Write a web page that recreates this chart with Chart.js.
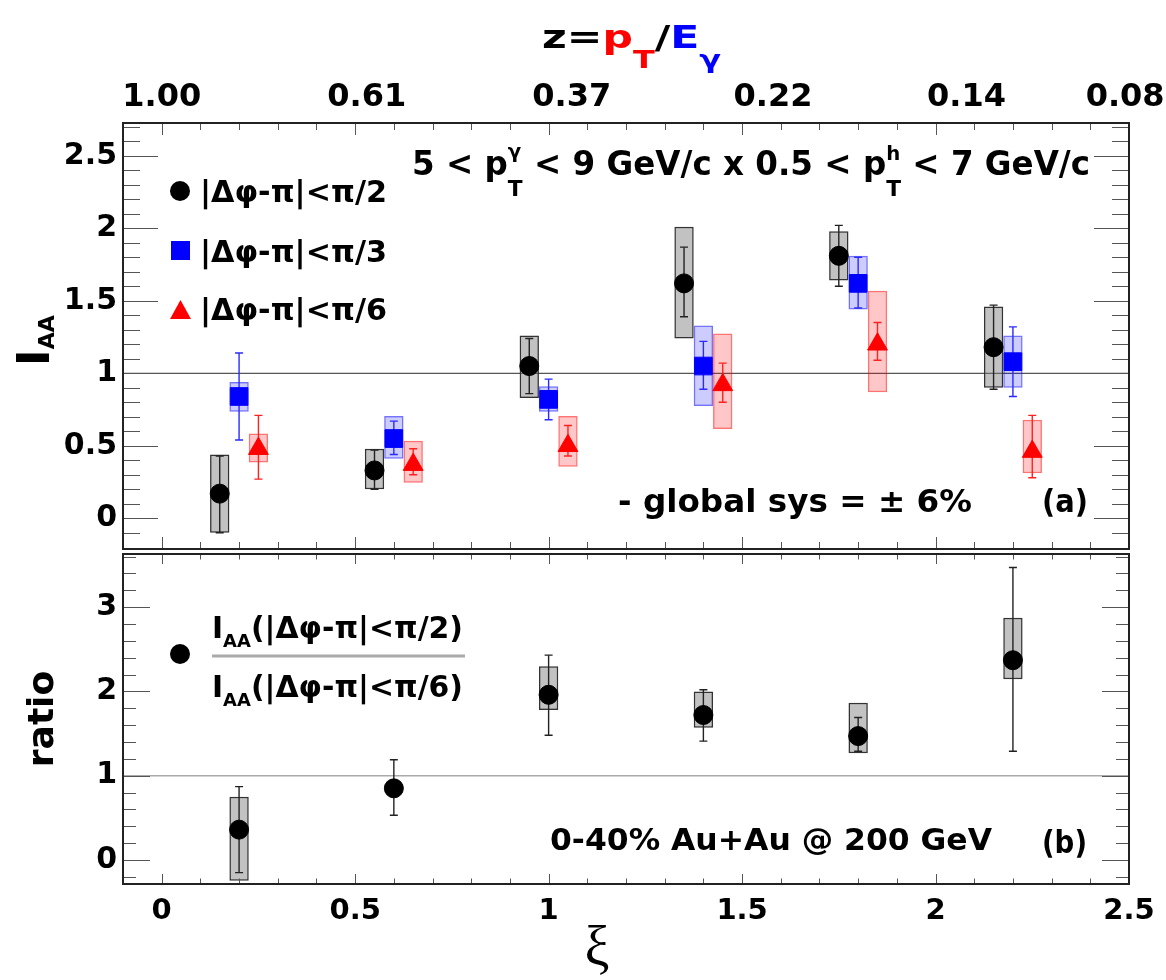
<!DOCTYPE html>
<html>
<head>
<meta charset="utf-8">
<title>I_AA vs xi</title>
<script src="https://cdn.jsdelivr.net/npm/chart.js@4.4.1/dist/chart.umd.min.js"></script>
<style>
  body { margin: 0; background: #fff; }
  canvas { display: block; }
</style>
</head>
<body>
<canvas id="iaaChart" width="1166" height="980"></canvas>
<script>
// xi = ln(1/z); the three |dphi-pi| windows are drawn side by side around each bin
const xiHalfPi  = [0.15, 0.55, 0.95, 1.35, 1.75, 2.15];
const xiThirdPi = [0.20, 0.60, 1.00, 1.40, 1.80, 2.20];
const xiSixthPi = [0.25, 0.65, 1.05, 1.45, 1.85, 2.25];
const xiRatio   = [0.20, 0.60, 1.00, 1.40, 1.80, 2.20];

// I_AA for |dphi-pi| < pi/2 (black circles)
const iaaHalfPi     = [0.17, 0.33, 1.05, 1.62, 1.81, 1.18];
const iaaHalfPiStat = [[-0.10, 0.43], [0.20, 0.47], [0.86, 1.24], [1.39, 1.87], [1.60, 2.02], [0.89, 1.47]];
const iaaHalfPiSys  = [[-0.10, 0.44], [0.20, 0.48], [0.83, 1.26], [1.24, 2.01], [1.64, 1.98], [0.90, 1.46]];

// I_AA for |dphi-pi| < pi/3 (blue squares)
const iaaThirdPi     = [0.84, 0.55, 0.82, 1.05, 1.62, 1.08];
const iaaThirdPiStat = [[0.54, 1.14], [0.44, 0.67], [0.68, 0.96], [0.89, 1.22], [1.45, 1.80], [0.84, 1.32]];
const iaaThirdPiSys  = [[0.735, 0.94], [0.41, 0.705], [0.735, 0.91], [0.775, 1.33], [1.44, 1.81], [0.90, 1.26]];

// I_AA for |dphi-pi| < pi/6 (red triangles)
const iaaSixthPi     = [0.48, 0.37, 0.50, 0.92, 1.20, 0.46];
const iaaSixthPiStat = [[0.27, 0.71], [0.30, 0.48], [0.43, 0.64], [0.80, 1.07], [1.09, 1.35], [0.28, 0.71]];
const iaaSixthPiSys  = [[0.385, 0.585], [0.245, 0.535], [0.355, 0.705], [0.615, 1.275], [0.87, 1.57], [0.31, 0.68]];

// ratio pi/2 over pi/6
const ratioVals = [0.36, 0.85, 1.96, 1.72, 1.47, 2.37];
const ratioStat = [[-0.15, 0.87], [0.53, 1.19], [1.48, 2.43], [1.41, 2.02], [1.29, 1.69], [1.29, 3.47]];
const ratioSys  = [[-0.245, 0.75], null, [1.78, 2.30], [1.57, 2.00], [1.265, 1.865], [2.145, 2.875]];

// top axis: z = pT/E_gamma labels and where they sit on the xi axis
const zTickLabels = ['1.00', '0.61', '0.37', '0.22', '0.14', '0.08'];
const zTickXi     = [0.0, 0.53, 1.06, 1.58, 2.08, 2.49];

const xiMin = -0.1, xiMax = 2.5;
const iaaMin = -0.229, iaaMax = 2.726;
const ratioMin = -0.285, ratioMax = 3.66;

const bold = (n) => `bold ${n}px "DejaVu Sans"`;
const plainNum = (v) => String(Math.round(v * 10) / 10);

function series(list, o) {
  const sysPts = o.xs.map((x, i) => ({ x, y: o.sys[i] })).filter(p => p.y);
  list.push({
    type: 'bar', yAxisID: o.axis, data: sysPts, order: 4,
    backgroundColor: o.fill, borderColor: o.edge, borderWidth: 1.5, borderSkipped: false,
    grouped: false, categoryPercentage: 1, barPercentage: 1, inflateAmount: 0
  });
  list.push({
    type: 'bar', yAxisID: o.axis, order: 3,
    data: o.xs.map((x, i) => ({ x, y: o.stat[i] })),
    backgroundColor: o.err, borderWidth: 0, grouped: false,
    categoryPercentage: 1, barPercentage: 1, maxBarThickness: 1.4, inflateAmount: 0
  });
  list.push({
    type: 'scatter', yAxisID: o.axis, order: 2,
    data: o.xs.flatMap((x, i) => [{ x, y: o.stat[i][0] }, { x, y: o.stat[i][1] }]),
    pointStyle: 'line', pointRadius: 4, borderColor: o.err, pointBorderWidth: 1.4
  });
  list.push({
    type: 'scatter', yAxisID: o.axis, order: 1,
    data: o.xs.map((x, i) => ({ x, y: o.vals[i] })),
    pointStyle: o.style, pointRadius: o.radius, backgroundColor: o.color,
    borderColor: o.color, pointBorderWidth: 1
  });
}

const datasets = [
  { type: 'line', yAxisID: 'y', order: 9, data: [{ x: xiMin, y: 1 }, { x: xiMax, y: 1 }],
    borderColor: '#555', borderWidth: 1.3, pointRadius: 0 },
  { type: 'line', yAxisID: 'yr', order: 9, data: [{ x: xiMin, y: 1 }, { x: xiMax, y: 1 }],
    borderColor: '#aaa', borderWidth: 1.5, pointRadius: 0 }
];
series(datasets, { axis: 'y', xs: xiHalfPi, vals: iaaHalfPi, stat: iaaHalfPiStat, sys: iaaHalfPiSys,
  fill: 'rgba(120,120,120,0.45)', edge: '#333', err: '#222', color: '#000', style: 'circle', radius: 9.5 });
series(datasets, { axis: 'y', xs: xiThirdPi, vals: iaaThirdPi, stat: iaaThirdPiStat, sys: iaaThirdPiSys,
  fill: 'rgba(0,0,255,0.2)', edge: 'rgba(0,0,255,0.55)', err: '#2a2aff', color: '#0000ff', style: 'rect', radius: 12.5 });
series(datasets, { axis: 'y', xs: xiSixthPi, vals: iaaSixthPi, stat: iaaSixthPiStat, sys: iaaSixthPiSys,
  fill: 'rgba(255,0,0,0.22)', edge: 'rgba(255,0,0,0.55)', err: '#ff2020', color: '#ff0000', style: 'triangle', radius: 11.5 });
series(datasets, { axis: 'yr', xs: xiRatio, vals: ratioVals, stat: ratioStat, sys: ratioSys,
  fill: 'rgba(120,120,120,0.45)', edge: '#333', err: '#222', color: '#000', style: 'circle', radius: 9.5 });

// text made of runs; sub/superscripts shift by dy, "hold" stacks the next run on the same x
function drawRuns(ctx, runs, x, y, target) {
  ctx.save();
  ctx.textAlign = 'left';
  ctx.textBaseline = 'alphabetic';
  const widths = runs.map(r => { ctx.font = r.f; return ctx.measureText(r.t).width; });
  let total = 0, held = 0;
  runs.forEach((r, i) => {
    if (r.hold) { held = widths[i]; return; }
    total += Math.max(widths[i], held); held = 0;
  });
  const sx = target ? target / total : 1;
  ctx.translate(x, y);
  ctx.scale(sx, 1);
  let cx = 0;
  held = 0;
  runs.forEach((r, i) => {
    ctx.font = r.f;
    ctx.fillStyle = r.c || '#000';
    ctx.fillText(r.t, cx, r.dy || 0);
    if (r.hold) { held = widths[i]; return; }
    cx += Math.max(widths[i], held); held = 0;
  });
  ctx.restore();
}

const rootStyle = {
  id: 'rootStyle',
  afterDatasetsDraw(chart) {
    const { ctx, chartArea: a } = chart;
    const x = chart.scales.x, yt = chart.scales.y, yb = chart.scales.yr;
    const panels = [
      { sc: yt, top: yt.top, bottom: yt.bottom - 2.5, minor: 0.1, per: 5, yLong: 35, yShort: 17, xLong: 12, xShort: 7 },
      { sc: yb, top: yb.top + 2.5, bottom: yb.bottom, minor: 0.2, per: 5, yLong: 27, yShort: 13, xLong: 10, xShort: 5.5 }
    ];
    ctx.save();
    ctx.lineWidth = 1;
    ctx.strokeStyle = '#555';
    for (const p of panels) {
      ctx.beginPath();
      for (let k = Math.ceil(xiMin * 10); k <= Math.floor(xiMax * 10); k++) {
        const px = Math.round(x.getPixelForValue(k / 10)) + 0.5;
        const len = k % 5 === 0 ? p.xLong : p.xShort;
        ctx.moveTo(px, p.top); ctx.lineTo(px, p.top + len);
        ctx.moveTo(px, p.bottom); ctx.lineTo(px, p.bottom - len);
      }
      const n0 = Math.ceil(p.sc.min / p.minor - 1e-6), n1 = Math.floor(p.sc.max / p.minor + 1e-6);
      for (let k = n0; k <= n1; k++) {
        const py = Math.round(p.sc.getPixelForValue(k * p.minor)) + 0.5;
        if (py < p.top + 2 || py > p.bottom - 2) continue;
        const len = k % p.per === 0 ? p.yLong : p.yShort;
        ctx.moveTo(a.left, py); ctx.lineTo(a.left + len, py);
        ctx.moveTo(a.right, py); ctx.lineTo(a.right - len, py);
      }
      ctx.stroke();
    }
    ctx.lineWidth = 2;
    ctx.strokeStyle = '#222';
    for (const p of panels) ctx.strokeRect(a.left, p.top, a.right - a.left, p.bottom - p.top);
    ctx.restore();
  },
  afterDraw(chart) {
    const ctx = chart.ctx;
    const dphi = '|\u0394\u03c6-\u03c0|<\u03c0/';

    // title z = pT / E_gamma
    drawRuns(ctx, [
      { t: 'z=', f: bold(32) },
      { t: 'p', f: bold(32), c: '#ff0000' },
      { t: 'T', f: bold(24), c: '#ff0000', dy: 20 },
      { t: '/', f: bold(32) },
      { t: 'E', f: bold(32), c: '#0000ff' },
      { t: '\u03b3', f: bold(24), c: '#0000ff', dy: 20 }
    ], 542, 48, 179);

    // kinematic range
    drawRuns(ctx, [
      { t: '5 < p', f: bold(33) },
      { t: '\u03b3', f: bold(20), dy: -17, hold: true },
      { t: 'T', f: bold(22), dy: 21 },
      { t: ' < 9 GeV/c x 0.5 < p', f: bold(33) },
      { t: 'h', f: bold(20), dy: -15, hold: true },
      { t: 'T', f: bold(22), dy: 21 },
      { t: ' < 7 GeV/c', f: bold(33) }
    ], 412, 175, 678);

    // legend of panel (a)
    ctx.save();
    ctx.fillStyle = '#000';
    ctx.beginPath(); ctx.arc(180, 191, 10, 0, Math.PI * 2); ctx.fill();
    ctx.fillStyle = '#0000ff';
    ctx.fillRect(171, 241, 19, 19);
    ctx.fillStyle = '#ff0000';
    ctx.beginPath(); ctx.moveTo(180.5, 300); ctx.lineTo(170, 319); ctx.lineTo(191, 319); ctx.closePath(); ctx.fill();
    ctx.restore();
    drawRuns(ctx, [{ t: dphi + '2', f: bold(30) }], 200, 202, 187);
    drawRuns(ctx, [{ t: dphi + '3', f: bold(30) }], 200, 262, 187);
    drawRuns(ctx, [{ t: dphi + '6', f: bold(30) }], 200, 320, 187);

    drawRuns(ctx, [{ t: '- global sys = \u00b1 6%', f: bold(32) }], 618, 512, 354);
    drawRuns(ctx, [{ t: '(a)', f: bold(32) }], 1042, 512, 46);
    drawRuns(ctx, [{ t: '0-40% Au+Au @ 200 GeV', f: bold(31) }], 550, 850, 442);
    drawRuns(ctx, [{ t: '(b)', f: bold(32) }], 1042, 853, 45);

    // legend of panel (b): ratio as a fraction
    ctx.save();
    ctx.fillStyle = '#000';
    ctx.beginPath(); ctx.arc(180, 654, 10, 0, Math.PI * 2); ctx.fill();
    ctx.strokeStyle = '#aaa';
    ctx.lineWidth = 3;
    ctx.beginPath(); ctx.moveTo(212, 656); ctx.lineTo(465, 656); ctx.stroke();
    ctx.restore();
    drawRuns(ctx, [
      { t: 'I', f: bold(30) }, { t: 'AA', f: bold(18), dy: 9 }, { t: '(' + dphi + '2)', f: bold(30) }
    ], 212, 638, 251);
    drawRuns(ctx, [
      { t: 'I', f: bold(30) }, { t: 'AA', f: bold(18), dy: 9 }, { t: '(' + dphi + '6)', f: bold(30) }
    ], 212, 697, 251);

    // axis titles
    ctx.save();
    ctx.fillStyle = '#000';
    ctx.translate(49, 366);
    ctx.rotate(-Math.PI / 2);
    ctx.font = bold(45);
    ctx.fillText('I', 0, 0);
    const wI = ctx.measureText('I').width;
    ctx.font = bold(22);
    ctx.fillText('AA', wI, 5);
    ctx.restore();

    ctx.save();
    ctx.fillStyle = '#000';
    ctx.translate(53, 719);
    ctx.rotate(-Math.PI / 2);
    ctx.textAlign = 'center';
    ctx.font = bold(36);
    ctx.fillText('ratio', 0, 0);
    ctx.restore();

    ctx.save();
    ctx.fillStyle = '#000';
    ctx.textAlign = 'center';
    ctx.font = '56px "Liberation Serif"';
    ctx.fillText('\u03be', 597, 965);
    ctx.restore();
  }
};

new Chart(document.getElementById('iaaChart'), {
  type: 'scatter',
  data: { datasets },
  options: {
    responsive: false,
    animation: false,
    events: [],
    layout: { padding: { left: 0, right: 37, top: 0, bottom: 0 } },
    plugins: { legend: { display: false }, tooltip: { enabled: false } },
    scales: {
      x: {
        type: 'linear', axis: 'x', position: 'bottom', min: xiMin, max: xiMax, offset: false,
        grid: { display: false, drawTicks: false }, border: { display: false },
        ticks: { stepSize: 0.5, includeBounds: false, padding: 10, color: '#000', maxRotation: 0,
                 autoSkip: false, font: { family: 'DejaVu Sans', weight: 'bold', size: 29 },
                 callback: plainNum },
        afterFit: (s) => { s.height = 96; s.paddingLeft = 0; s.paddingRight = 0; }
      },
      xTop: {
        type: 'linear', axis: 'x', position: 'top', min: xiMin, max: xiMax, offset: false,
        grid: { display: false, drawTicks: false }, border: { display: false },
        afterBuildTicks: (s) => { s.ticks = zTickXi.map(v => ({ value: v })); },
        ticks: { padding: 6, color: '#000', maxRotation: 0, autoSkip: false,
                 font: { family: 'DejaVu Sans', weight: 'bold', size: 32 },
                 callback: (v, i) => zTickLabels[i] },
        afterFit: (s) => { s.height = 123; s.paddingLeft = 0; s.paddingRight = 0; }
      },
      y: {
        type: 'linear', axis: 'y', position: 'left', stack: 'panels', stackWeight: 428.5, weight: 2,
        min: iaaMin, max: iaaMax,
        grid: { display: false, drawTicks: false }, border: { display: false },
        ticks: { stepSize: 0.5, includeBounds: false, padding: 6, color: '#000',
                 font: { family: 'DejaVu Sans', weight: 'bold', size: 30 }, callback: plainNum },
        afterFit: (s) => { s.width = 123; }
      },
      yr: {
        type: 'linear', axis: 'y', position: 'left', stack: 'panels', stackWeight: 332.5, weight: 1,
        min: ratioMin, max: ratioMax,
        grid: { display: false, drawTicks: false }, border: { display: false },
        ticks: { stepSize: 1, includeBounds: false, padding: 6, color: '#000',
                 font: { family: 'DejaVu Sans', weight: 'bold', size: 30 }, callback: plainNum },
        afterFit: (s) => { s.width = 123; }
      }
    }
  },
  plugins: [rootStyle]
});
</script>
</body>
</html>
